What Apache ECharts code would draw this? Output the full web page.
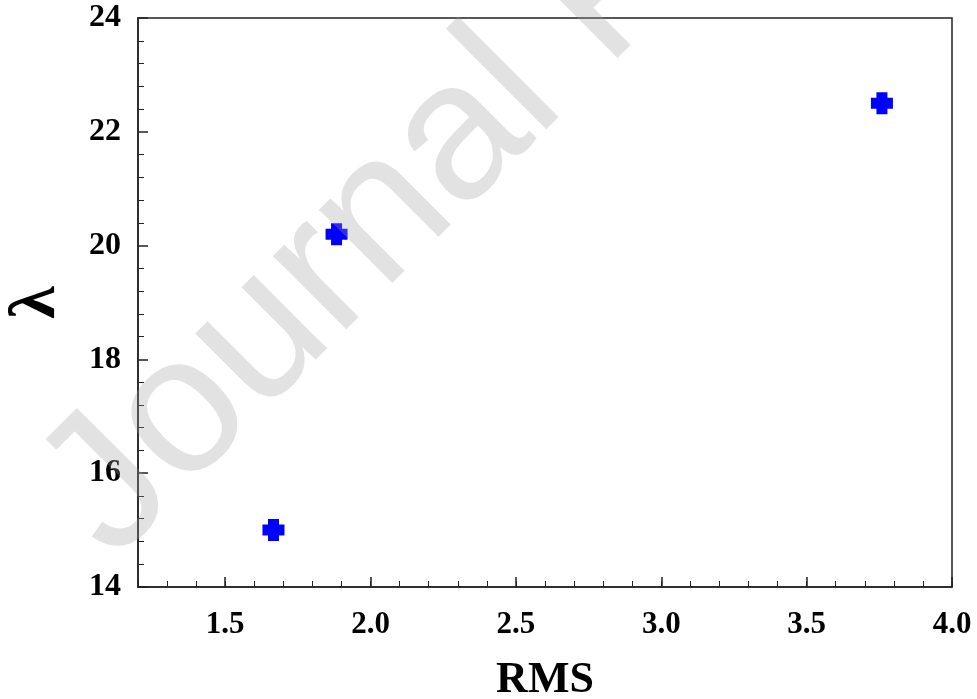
<!DOCTYPE html>
<html>
<head>
<meta charset="utf-8">
<script src="https://cdn.jsdelivr.net/npm/echarts@6/dist/echarts.min.js"></script>
<style>
  html, body { margin: 0; padding: 0; background: #fff; }
  #main { width: 977px; height: 699px; }
</style>
</head>
<body>
<div id="main"></div>
<script>
var rmsValues = [1.666, 1.883, 3.759];
var lambdaValues = [15.0, 20.2, 22.5];
var xLabelValues = [1.5, 2.0, 2.5, 3.0, 3.5, 4.0];

var points = [];
for (var i = 0; i < rmsValues.length; i++) {
    points.push([rmsValues[i], lambdaValues[i]]);
}

var serif = 'Liberation Serif';
var chart = echarts.init(document.getElementById('main'));

chart.setOption({
    animation: false,
    backgroundColor: '#fff',
    grid: {
        left: 138, top: 18, right: 25, bottom: 112,
        containLabel: false, outerBoundsMode: 'none',
        show: true, borderColor: '#222', borderWidth: 1.5
    },
    xAxis: [{
        type: 'value', min: 1.2, max: 4.0,
        name: 'RMS', nameLocation: 'middle', nameGap: 72,
        nameTextStyle: { fontFamily: serif, fontWeight: 'bold', fontSize: 44, color: '#000' },
        axisLine: { show: true, onZero: false, lineStyle: { color: '#222', width: 1.5 } },
        axisTick: { show: true, inside: true, length: 10, customValues: xLabelValues,
            lineStyle: { color: '#222', width: 1.5 } },
        axisLabel: { customValues: xLabelValues, margin: 22, fontFamily: serif, fontWeight: 'bold',
            fontSize: 31, color: '#000',
            formatter: function (v) { return v.toFixed(1); } },
        splitLine: { show: false }
    }, {
        // minor ticks only
        type: 'value', min: 1.2, max: 4.0, interval: 0.1, position: 'bottom',
        axisLine: { show: false },
        axisTick: { show: true, inside: true, length: 6, lineStyle: { color: '#222', width: 1 } },
        axisLabel: { show: false },
        splitLine: { show: false }
    }],
    yAxis: {
        type: 'value', min: 14, max: 24, interval: 2,
        name: 'λ', nameLocation: 'middle', nameGap: 68,
        nameTextStyle: { fontFamily: serif, fontWeight: 'bold', fontSize: 66, color: '#000' },
        axisLine: { show: true, onZero: false, lineStyle: { color: '#222', width: 1.5 } },
        axisTick: { show: true, inside: true, length: 10, lineStyle: { color: '#222', width: 1.5 } },
        minorTick: { show: true, splitNumber: 5, length: 6, lineStyle: { color: '#222', width: 1 } },
        axisLabel: { margin: 17, fontFamily: serif, fontWeight: 'bold', fontSize: 32, color: '#000' },
        splitLine: { show: false }
    },
    series: [{
        type: 'scatter',
        xAxisIndex: 0, yAxisIndex: 0,
        symbol: 'path://M1,0H3V1H4V3H3V4H1V3H0V1H1Z',
        symbolSize: 22,
        itemStyle: { color: '#0000ff', opacity: 1 },
        data: points
    }],
    graphic: [{
        type: 'text',
        x: 75, y: 524,
        rotation: Math.PI / 4,
        z: 100,
        silent: true,
        style: {
            text: 'Journal Pre-proof',
            font: '196px "Liberation Sans"',
            fill: 'rgba(160,160,160,0.3)',
            align: 'left',
            verticalAlign: 'middle'
        }
    }]
});
</script>
</body>
</html>
